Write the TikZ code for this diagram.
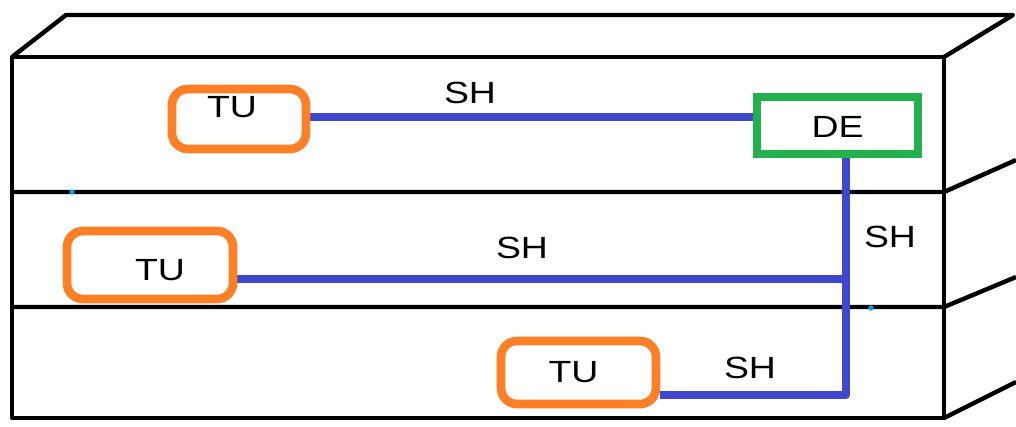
\documentclass[tikz,border=0pt]{standalone}
\usepackage{fontspec}
\setmainfont{Liberation Sans}
\usetikzlibrary{calc}
\definecolor{tuorange}{HTML}{FF7F27}
\definecolor{degreen}{HTML}{22B14C}
\definecolor{shblue}{HTML}{3F48CC}
\definecolor{dotcyan}{HTML}{00A2E8}
\pgfdeclarelayer{back}
\pgfdeclarelayer{mid}
\pgfsetlayers{back,mid,main}
\newcommand{\wtxt}[1]{\scalebox{1.22}[1]{#1}}
\tikzset{
  frame/.style={line width=3.3pt, black, line join=round},
  tubox/.style={draw=tuorange, line width=6.5pt, rounded corners=12pt, fill=white, inner sep=0pt},
  debox/.style={draw=degreen, line width=6.5pt, fill=white, inner sep=0pt},
  shline/.style={draw=shblue, line width=5.5pt, line cap=round},
  lbl/.style={font=\fontsize{23}{27}\selectfont, inner sep=0pt, text=black},
  dotc/.style={circle, fill=dotcyan, inner sep=0pt, minimum size=4pt}
}
\begin{document}
\begin{tikzpicture}[x=0.75pt, y=-0.75pt]
\useasboundingbox (0,0) rectangle (1016,426);
% shelf frame
\begin{pgfonlayer}{back}
\draw[frame] (12,418) -- (12,57) -- (944,57) -- (944,418) -- cycle;
\draw[frame] (12,57) -- (66,15) -- (1013,15) -- (944,57);
\draw[frame] (12,192) -- (944,192) -- (1016,160);
\draw[frame] (12,307) -- (944,307) -- (1016,277);
\draw[frame] (944,418) -- (1016,382);
\end{pgfonlayer}
\node[dotc] (d1) at (72,192) {};
\node[dotc] (d2) at (871,308) {};
% nodes
\node[tubox, minimum width=100.5pt, minimum height=45pt,
      label={[lbl, xshift=-5.25pt, yshift=9pt]center:\wtxt{TU}}] (tu1) at (239,119) {};
\node[tubox, minimum width=124.5pt, minimum height=51pt,
      label={[lbl, xshift=7.5pt, yshift=-3.75pt]center:\wtxt{TU}}] (tu2) at (150,265) {};
\node[tubox, minimum width=116.25pt, minimum height=47.25pt,
      label={[lbl, xshift=-3.75pt]center:\wtxt{TU}}] (tu3) at (578.5,372.5) {};
\node[debox, minimum width=120.75pt, minimum height=42.75pt,
      label={[lbl, yshift=-1pt]center:\wtxt{DE}}] (de) at (837.5,125.5) {};
% junction coordinates
\coordinate (top) at (846,125.5);
\coordinate (m2) at (846,279);
\coordinate (m3) at (846,395);
\coordinate (m1) at (700,117);
% connectors
\begin{pgfonlayer}{mid}
\draw[shline] (tu1.east |- m1) -- (de.west |- m1);
\draw[shline, line cap=butt] (top) -- (m3);
\draw[shline, line cap=butt] (tu2.east |- m2) -- (m2);
\draw[shline, line cap=butt, line join=round] (tu3.east |- m3) -- (m3) -- (m2);
\end{pgfonlayer}
% labels
\node[lbl] (sh1) at (470,93) {\wtxt{SH}};
\node[lbl] (sh2) at (522,248) {\wtxt{SH}};
\node[lbl] (sh3) at (890,237) {\wtxt{SH}};
\node[lbl] (sh4) at (750,368) {\wtxt{SH}};
\end{tikzpicture}
\end{document}
